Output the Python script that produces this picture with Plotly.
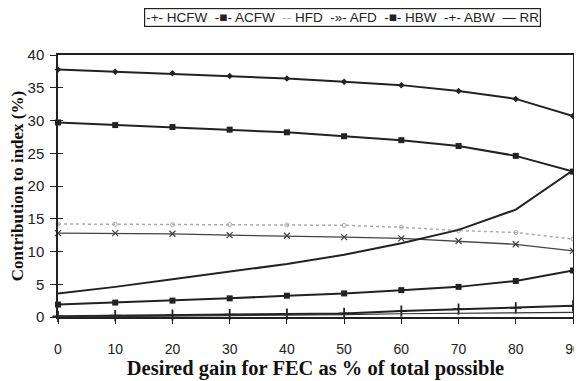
import plotly.graph_objects as go

x_vals = [0, 10, 20, 30, 40, 50, 60, 70, 80, 90]

hcfw = [37.8, 37.45, 37.2, 36.8, 36.4, 35.9, 35.4, 34.5, 33.3, 30.7]
acfw = [29.7, 29.3, 29.0, 28.6, 28.2, 27.6, 27.0, 26.1, 24.6, 22.2]
hfd = [14.2, 14.15, 14.1, 14.1, 14.05, 14.0, 13.7, 13.2, 12.9, 11.9]
afd = [12.8, 12.8, 12.7, 12.5, 12.4, 12.2, 12.0, 11.6, 11.1, 10.1]
hbw = [1.9, 2.2, 2.5, 2.85, 3.25, 3.6, 4.1, 4.6, 5.5, 7.1]
abw = [0.1, 0.2, 0.3, 0.35, 0.45, 0.55, 0.9, 1.2, 1.4, 1.7]
rr = [3.6, 4.6, 5.75, 6.9, 8.1, 9.5, 11.25, 13.3, 16.4, 22.4]
extra = [0.0, 0.05, 0.1, 0.15, 0.25, 0.35, 0.5, 0.6, 0.7, 0.7]

x_ticks = [0, 10, 20, 30, 40, 50, 60, 70, 80, 90]
y_ticks = [0, 5, 10, 15, 20, 25, 30, 35, 40]

legend_names = ["HCFW", "ACFW", "HFD", "AFD", "HBW", "ABW", "RR"]
legend_glyphs = ["-+-", "-■-", "<span style='color:#aaa'>--</span>", "-»-", "-■-", "-+-", "—"]

series = [
    ("HCFW", hcfw, dict(color="#222", width=2), dict(symbol="diamond", size=5, color="#222")),
    ("ACFW", acfw, dict(color="#222", width=2), dict(symbol="square", size=6, color="#222")),
    ("HFD", hfd, dict(color="#aaa", width=1.5, dash="dot"), dict(symbol="circle-open", size=4, color="#aaa")),
    ("AFD", afd, dict(color="#444", width=1.3), dict(symbol="x-thin", size=6, color="#444", line=dict(width=1.3, color="#444"))),
    ("HBW", hbw, dict(color="#222", width=2), dict(symbol="square", size=6, color="#222")),
    ("ABW", abw, dict(color="#222", width=2), dict(symbol="cross-thin", size=8, color="#222", line=dict(width=1.8, color="#222"))),
    ("RR", rr, dict(color="#222", width=2), None),
]

fig = go.Figure()
for name, ys, ln, mk in series:
    if mk is None:
        fig.add_trace(go.Scatter(x=x_vals, y=ys, name=name, mode="lines", line=ln, cliponaxis=False))
    else:
        fig.add_trace(go.Scatter(x=x_vals, y=ys, name=name, mode="lines+markers", line=ln, marker=mk, cliponaxis=False))

fig.add_trace(go.Scatter(x=x_vals, y=extra, mode="lines", line=dict(color="#333", width=1.2),
                         showlegend=False, cliponaxis=False, yaxis="y2"))

legend_text = "  ".join(f"{g} {n}" for g, n in zip(legend_glyphs, legend_names))

# the page body adds an 8px margin, so the figure is drawn 8px smaller and shifted
fig.update_layout(
    width=574, height=373,
    margin=dict(l=50, r=9, t=47, b=64, autoexpand=False),
    paper_bgcolor="white", plot_bgcolor="white",
    font=dict(family="Liberation Sans, Arial", size=14, color="#222"),
    showlegend=False,
    annotations=[dict(text=legend_text, xref="paper", yref="paper", x=0.552, y=1.143,
                      xanchor="center", yanchor="middle", showarrow=False,
                      font=dict(size=13.5, family="Liberation Sans, Arial", color="#222"),
                      bordercolor="#222", borderwidth=1.2, borderpad=1, bgcolor="white")],
    yaxis2=dict(overlaying="y", side="left", range=[0, 40], tickvals=y_ticks, ticks="inside",
                ticklen=5, tickcolor="#222", showticklabels=False, showgrid=False, zeroline=False,
                showline=False),
)
fig.update_xaxes(range=[0, 90], tickvals=x_ticks, ticks="outside", ticklen=5, tickcolor="#222",
                 showline=True, linecolor="#222", linewidth=1.5, mirror=True, showgrid=False, zeroline=False,
                 tickfont=dict(size=14), ticklabelstandoff=13,
                 title=dict(text="<b>Desired gain for FEC as % of total possible</b>",
                            font=dict(family="Liberation Serif, Times New Roman", size=20.5, color="#111"),
                            standoff=3))
fig.update_layout(yaxis=dict(range=[0, 40], tickvals=y_ticks, ticks="outside", ticklen=6, tickcolor="#222",
                 showline=True, linecolor="#222", linewidth=1.5, mirror=True, showgrid=False, zeroline=False,
                 tickfont=dict(size=15), ticklabelstandoff=3,
                 title=dict(text="<b>Contribution to index (%)</b>",
                            font=dict(family="Liberation Serif, Times New Roman", size=17, color="#111"),
                            standoff=5)))

fig.write_html("out.html")
